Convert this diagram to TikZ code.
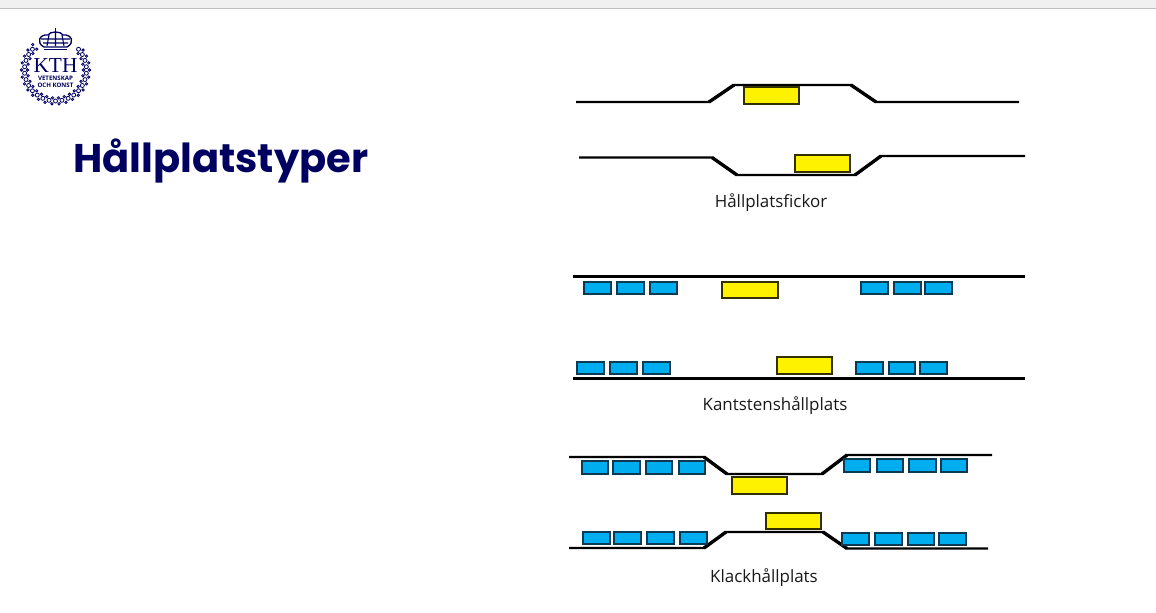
\documentclass[tikz,border=0pt]{standalone}
\usepackage{fontspec}
\setmainfont{Open Sans}
\newfontfamily\rubrikfont{Poppins}
\newfontfamily\logofont{Liberation Serif}
\definecolor{kthbla}{HTML}{000061}
\definecolor{bussgul}{HTML}{FFF200}
\definecolor{bilbla}{HTML}{00AEEF}
\definecolor{bilkant}{HTML}{0B3A52}
\tikzset{
  buss/.style={draw=black!80!bussgul, fill=bussgul, line width=0.9pt},
  bil/.style={draw=bilkant, fill=bilbla, line width=0.9pt},
  gata/.style={line width=1.8pt, line join=round},
  sluttning/.style={line width=2.5pt},
  etikett/.style={font=\fontsize{12.7}{14}\selectfont, text=black!90},
  logga/.style={kthbla, line width=0.6pt}
}
\begin{document}
\begin{tikzpicture}[x=0.75pt,y=-0.75pt]
\useasboundingbox (0,0) rectangle (1156,613);

% Toppremsa
\fill[white] (0,0) rectangle (1156,613);
\fill[black!6] (0,0) rectangle (1156,8);
\draw[black!25, line width=0.7pt] (0,8.5) -- (1156,8.5);

% Logga
\foreach \v in {-42,-30,...,222} {
  \draw[logga] (55.5,70) ++(\v:31) circle (2);
  \draw[logga] (55.5,70) ++(\v+6:28) circle (1.2);
  \draw[logga] (55.5,70) ++(\v+6:34) circle (1.2);
}
\draw[logga, line width=1pt, fill=white] (44,47) .. controls (36,43) and (39,34) .. (48,35) .. controls (50,31) and (61,31) .. (63,35) .. controls (72,34) and (75,43) .. (67,47) -- cycle;
\draw[logga, line width=0.8pt] (49,35) -- (47,46) (55.5,33) -- (55.5,46) (62,35) -- (64,46) (43,43) -- (68,43) (41,39) -- (70,39);
\draw[logga, line width=1.2pt] (44,49.5) -- (67,49.5);
\draw[logga, line width=1.2pt] (55.5,28) -- (55.5,33);
\node[kthbla, inner sep=0pt, font=\logofont\fontsize{16}{16}\selectfont] (kth) at (55.5,66) {KTH};
\node[kthbla, inner sep=0pt, font=\bfseries\fontsize{4.6}{5}\selectfont] (vetenskap) at (55.5,78.5) {VETENSKAP};
\node[kthbla, inner sep=0pt, font=\bfseries\fontsize{4.6}{5}\selectfont] (konst) at (55.5,85) {OCH KONST};

% Rubrik
\node[anchor=base west, inner sep=0pt, kthbla, font=\rubrikfont\bfseries\fontsize{30}{36}\selectfont] (rubrik) at (73,172) {Hållplatstyper};

% Hållplatsfickor
\draw[gata] (576,102) -- (709,102) -- (734,85) -- (851,85) -- (876,102) -- (1019,102);
\draw[sluttning] (709,102) -- (734,85) (851,85) -- (876,102);
\draw[gata] (579,157.5) -- (712,157.5) -- (737,175) -- (855,175) -- (881,156) -- (1025,156);
\draw[sluttning] (712,157.5) -- (737,175) (855,175) -- (881,156);
\draw[buss] (744,87) rectangle (799,104);
\draw[buss] (795,155) rectangle (850,172);
\node[etikett] (fickor) at (771,203) {Hållplatsfickor};

% Kantstenshållplats
\draw[gata] (573,276.5) -- (1025,276.5);
\draw[gata] (573,378.5) -- (1025,378.5);
\draw[bil] (584,282) rectangle (611,294);
\draw[bil] (617,282) rectangle (644,294);
\draw[bil] (650,282) rectangle (677,294);
\draw[bil] (861,282) rectangle (888,294);
\draw[bil] (894,282) rectangle (921,294);
\draw[bil] (925,282) rectangle (952,294);
\draw[buss] (722,282) rectangle (778,298);
\draw[bil] (577,362) rectangle (604,374);
\draw[bil] (610,362) rectangle (637,374);
\draw[bil] (643,362) rectangle (670,374);
\draw[bil] (856,362) rectangle (883,374);
\draw[bil] (889,362) rectangle (915,374);
\draw[bil] (920,362) rectangle (947,374);
\draw[buss] (777,357) rectangle (832,374);
\node[etikett] (kantsten) at (775,406) {Kantstenshållplats};

% Klackhållplats
\draw[gata] (569,457) -- (704,457) -- (727,474) -- (822,474) -- (847,455) -- (992,455);
\draw[sluttning] (704,457) -- (727,474) (822,474) -- (847,455);
\draw[gata] (569,548) -- (704,548) -- (726,532) -- (823,532) -- (847,548.5) -- (988,548.5);
\draw[sluttning] (704,548) -- (726,532) (823,532) -- (847,548.5);
\draw[bil] (582,461) rectangle (608,474);
\draw[bil] (613,461) rectangle (640,474);
\draw[bil] (646,461) rectangle (672,474);
\draw[bil] (679,461) rectangle (705,474);
\draw[bil] (844,459) rectangle (870,472);
\draw[bil] (877,459) rectangle (903,472);
\draw[bil] (909,459) rectangle (936,472);
\draw[bil] (941,459) rectangle (967,472);
\draw[buss] (732,477) rectangle (787,494);
\draw[bil] (583,532) rectangle (610,544);
\draw[bil] (614,532) rectangle (641,544);
\draw[bil] (647,532) rectangle (674,544);
\draw[bil] (680,532) rectangle (707,544);
\draw[bil] (842,533) rectangle (869,545);
\draw[bil] (875,533) rectangle (902,545);
\draw[bil] (908,533) rectangle (934,545);
\draw[bil] (939,533) rectangle (966,545);
\draw[buss] (766,513) rectangle (821,529);
\node[etikett] (klack) at (764,578) {Klackhållplats};

\end{tikzpicture}
\end{document}
